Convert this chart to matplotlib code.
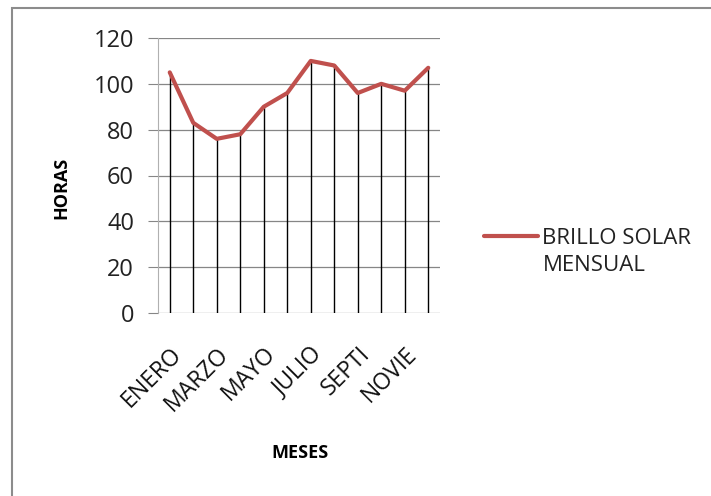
import matplotlib.pyplot as plt
from matplotlib.patches import Rectangle
from matplotlib.legend_handler import HandlerLine2D

meses = ['ENERO', 'FEBRERO', 'MARZO', 'ABRIL', 'MAYO', 'JUNIO',
         'JULIO', 'AGOSTO', 'SEPTI', 'OCTUBRE', 'NOVIE', 'DICIEMBRE']
horas = [105, 83, 76, 78, 90, 96, 110, 108, 96, 100, 97, 107]
y_ticks = [0, 20, 40, 60, 80, 100, 120]


class FirstLineHandler(HandlerLine2D):
    # deja la linea de la leyenda a la altura del primer renglon
    def create_artists(self, legend, orig_handle, xdescent, ydescent,
                       width, height, fontsize, trans):
        arts = super().create_artists(legend, orig_handle, xdescent, ydescent,
                                      width, height, fontsize, trans)
        for a in arts:
            a.set_ydata([y + fontsize * 0.72 for y in a.get_ydata()])
        return arts


plt.rcParams['font.family'] = ['Open Sans', 'DejaVu Sans']

fig = plt.figure(figsize=(7.11, 4.96), dpi=100)
ax = fig.add_axes([158 / 711, 1 - 313 / 496, 282 / 711, 275 / 496])

x = list(range(len(meses)))
ax.vlines(x, 0, horas, colors='black', linewidth=1.0, zorder=2)
linea, = ax.plot(x, horas, color='#C0504D', linewidth=3, solid_capstyle='round',
                 label='BRILLO SOLAR\nMENSUAL', zorder=3)

ax.set_xlim(-0.5, len(meses) - 0.5)
ax.set_ylim(0, 120)
ax.set_yticks(y_ticks)
ax.yaxis.grid(True, color='#868686', linewidth=0.9)
ax.set_axisbelow(True)
ax.tick_params(axis='y', length=7.2, color='#868686', labelsize=17, pad=10,
               labelcolor='#222222')

ax.set_xticks(x[::2])
ax.set_xticklabels(meses[::2], rotation=45, ha='right', rotation_mode='anchor',
                   fontsize=16.5, color='#111111')
ax.tick_params(axis='x', length=0, pad=21)

for s in ['top', 'right', 'bottom']:
    ax.spines[s].set_visible(False)
ax.spines['left'].set_color('#B0B0B0')

fig.text(300 / 711, 1 - 453 / 496, 'MESES', ha='center', va='center',
         fontsize=13, fontweight='bold')
fig.text(61 / 711, 1 - 188 / 496, 'HORAS', ha='center', va='center',
         rotation=90, fontsize=13, fontweight='bold')

leg = ax.legend(handles=[linea], loc='center left',
                bbox_to_anchor=(484 / 711, 1 - 252 / 496),
                bbox_transform=fig.transFigure, frameon=False, fontsize=16,
                handlelength=2.45, handletextpad=0.18, borderpad=0,
                borderaxespad=0,
                handler_map={linea: FirstLineHandler()})
for t in leg.get_texts():
    t.set_linespacing(1.35)
    t.set_color('#222222')

fig.add_artist(Rectangle((12 / 711, -0.05), 1.0, 1 - 8 / 496 + 0.05,
                         transform=fig.transFigure, fill=False,
                         edgecolor='#8C8C8C', linewidth=1.5))

fig.savefig('out.png', dpi=100)
